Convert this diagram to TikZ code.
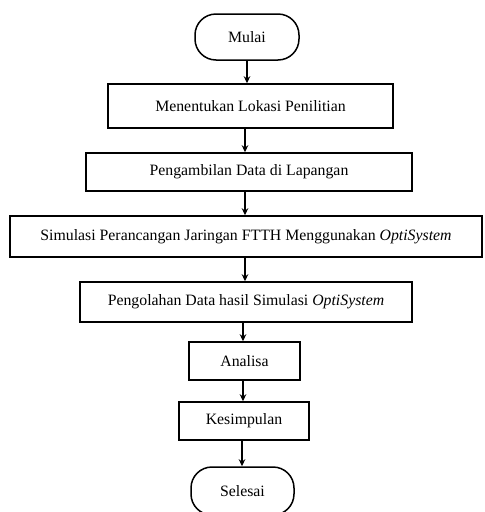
\documentclass[tikz,border=0pt]{standalone}
\usepackage{fontspec}
\setmainfont{Liberation Serif}
\usetikzlibrary{arrows.meta}
\begin{document}
\begin{tikzpicture}[x=1pt,y=-1pt,
  every node/.style={font=\fontsize{15.8}{18}\selectfont},
  proc/.style={draw, line width=1.5pt, rectangle, inner sep=0pt},
  term/.style={draw, line width=1.5pt, rectangle, rounded corners=21pt, inner sep=0pt},
  conn/.style={line width=1.4pt, -{Stealth[length=7pt,width=6.5pt]}}]
\useasboundingbox (0,0) rectangle (485,512);
\node[term, minimum width=104pt, minimum height=46pt] (mulai) at (247,37) {Mulai};
\node[proc, minimum width=285pt, minimum height=44pt] (b1) at (250.5,106) {Menentukan Lokasi Penilitian};
\node[proc, minimum width=326pt, minimum height=38pt] (b2) at (249,172) {Pengambilan Data di Lapangan};
\node[proc, minimum width=472pt, minimum height=41pt] (b3) at (246,236.5) {Simulasi Perancangan Jaringan FTTH Menggunakan \textit{OptiSystem}};
\node[proc, minimum width=332pt, minimum height=40pt] (b4) at (246,302) {Pengolahan Data hasil Simulasi \textit{OptiSystem}};
\node[proc, minimum width=111pt, minimum height=38pt] (b5) at (244.5,361) {Analisa};
\node[proc, minimum width=130pt, minimum height=38pt] (b6) at (244,421) {Kesimpulan};
\node[term, minimum width=103pt, minimum height=48pt] (selesai) at (242.5,491) {Selesai};
\draw[conn] (mulai.south) -- (mulai.south |- b1.north);
\draw[conn] ([xshift=-5.5pt]b1.south) -- ([xshift=-5.5pt]b1.south |- b2.north);
\draw[conn] ([xshift=-4pt]b2.south) -- ([xshift=-4pt]b2.south |- b3.north);
\draw[conn] ([xshift=-1pt]b3.south) -- ([xshift=-1pt]b3.south |- b4.north);
\draw[conn] ([xshift=-3pt]b4.south) -- ([xshift=-3pt]b4.south |- b5.north);
\draw[conn] ([xshift=-1.5pt]b5.south) -- ([xshift=-1.5pt]b5.south |- b6.north);
\draw[conn] ([xshift=-2pt]b6.south) -- ([xshift=-2pt]b6.south |- selesai.north);
\end{tikzpicture}
\end{document}
